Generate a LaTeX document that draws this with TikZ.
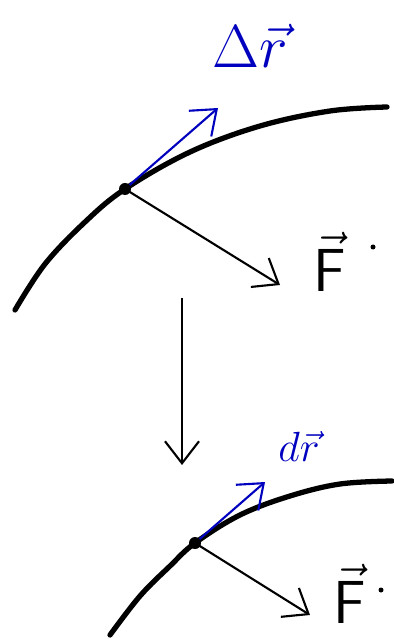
\documentclass[tikz,border=0pt]{standalone}
\usepackage{amsmath, amssymb}
\usetikzlibrary{positioning, arrows.meta}

\begin{document}
\begin{tikzpicture}[x=0.01cm, y=-0.01cm,
    path/.style={line width=1.5pt, black, line cap=round, line join=round},
    vecarrow/.style={-{Straight Barb[length=2.2mm, width=3.4mm]}, line width=0.6pt},
    disp/.style={vecarrow, blue!75!black},
    force/.style={vecarrow, black},
    pt/.style={circle, fill=black, inner sep=0pt, minimum size=1.2mm},
    speck/.style={circle, fill=black, inner sep=0pt, minimum size=0.5mm},
    lbl/.style={inner sep=0pt},
  ]
    \useasboundingbox (0,0) rectangle (393,640);

    % finite displacement
    \draw[path] plot[smooth, tension=0.6] coordinates
      {(15,310) (45,264) (85,222) (125,189) (190,152) (260,126) (330,111) (387,107)};
    \coordinate (p1) at (125,189);
    \coordinate (dr1) at (218,108);
    \coordinate (f1) at (280,285);
    \draw[disp]  (p1) -- (dr1);
    \draw[force] (p1) -- (f1);
    \node[pt] (mass1) at (p1) {};
    \node[lbl, blue!75!black, font=\fontsize{16}{18}\selectfont] (Dr) at (250,46) {$\Delta\vec{r}$};
    \node[lbl, font=\fontsize{19}{23}\selectfont] (F1) at (330,262) {$\vec{\mathsf{F}}$};
    \node[speck] (d1) at (373,247) {};

    % limit
    \coordinate (lim top) at (182,298);
    \coordinate (lim bot) at (182,465);
    \draw[force] (lim top) -- (lim bot);

    % infinitesimal displacement
    \draw[path] plot[smooth, tension=0.6] coordinates
      {(110,635) (140,596) (170,566) (195,543) (240,515) (290,496) (340,484) (392,481)};
    \coordinate (p2) at (195,543);
    \coordinate (dr2) at (265,482);
    \coordinate (f2) at (310,615);
    \draw[disp]  (p2) -- (dr2);
    \draw[force] (p2) -- (f2);
    \node[pt] (mass2) at (p2) {};
    \node[lbl, blue!75!black, font=\fontsize{13}{15}\selectfont] (dr) at (299,446) {$d\vec{r}$};
    \node[lbl, font=\fontsize{18}{22}\selectfont] (F2) at (350,594) {$\vec{\mathsf{F}}$};
    \node[speck] (d2) at (381,590) {};
\end{tikzpicture}
\end{document}
